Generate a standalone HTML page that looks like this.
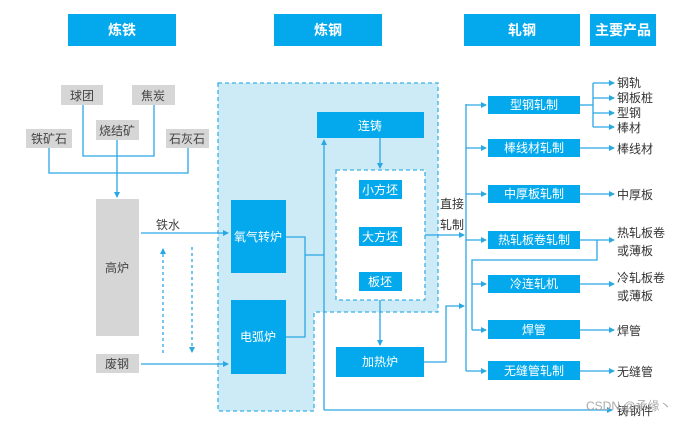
<!DOCTYPE html>
<html><head><meta charset="utf-8"><style>
html,body{margin:0;padding:0;background:#fff;}
svg{display:block;}
text{font-family:"Liberation Sans","Noto Sans CJK SC",sans-serif;}
</style></head><body>
<svg width="696" height="423" viewBox="0 0 696 423" xmlns="http://www.w3.org/2000/svg">
<defs>
<marker id="a" markerWidth="6" markerHeight="6" refX="5" refY="3" orient="auto" markerUnits="userSpaceOnUse"><path d="M0,0 L6,3 L0,6 z" fill="#2aa8e4"/></marker>
</defs>
<g font-size="14" font-weight="bold" fill="#fff" text-anchor="middle">
<rect x="68" y="14" width="108" height="32" fill="#03a9ec"/><text x="122" y="35">炼铁</text>
<rect x="274" y="14" width="108" height="32" fill="#03a9ec"/><text x="328" y="35">炼钢</text>
<rect x="464" y="14" width="116" height="32" fill="#03a9ec"/><text x="522" y="35">轧钢</text>
<rect x="590" y="14" width="66" height="32" fill="#03a9ec"/><text x="623" y="35">主要产品</text>
</g>
<!-- steel region -->
<path d="M218,83 L438,83 L438,312 L314,312 L314,411 L218,411 Z" fill="#cdeaf7" stroke="#3ab0e6" stroke-dasharray="4,3" stroke-width="1.3"/>
<rect x="336" y="170" width="89" height="130" fill="#fff" stroke="#3ab0e6" stroke-dasharray="4,3" stroke-width="1.3"/>
<!-- gray boxes -->
<g fill="#d6d6d6"><rect x="61" y="85" width="42" height="20"/><rect x="132" y="85" width="43" height="20"/><rect x="96" y="120" width="43" height="20"/><rect x="26" y="129" width="46" height="19"/><rect x="166" y="129" width="43" height="19"/><rect x="96" y="199" width="43" height="137"/><rect x="96" y="354" width="43" height="19"/></g>
<g font-size="12" fill="#444" text-anchor="middle">
<text x="82" y="100">球团</text><text x="153" y="100">焦炭</text><text x="117" y="135">烧结矿</text><text x="49" y="143">铁矿石</text><text x="187" y="143">石灰石</text><text x="117" y="272">高炉</text><text x="117" y="368">废钢</text><text x="168" y="229">铁水</text>
</g>
<g fill="none" stroke="#2aa8e4" stroke-width="1.3">
<path d="M83,105 V156 H154 V105"/><path d="M49,148 V173 H188 V148"/>
<path d="M117,140 V197" marker-end="url(#a)"/>
<path d="M141,233 H228" marker-end="url(#a)"/>
<path d="M141,364 H228" marker-end="url(#a)"/>
<path d="M163,353 V249" stroke-dasharray="3,3" marker-end="url(#a)"/>
<path d="M192,247 V352" stroke-dasharray="3,3" marker-end="url(#a)"/>
<path d="M286,237 H305 V337 H286"/><path d="M305,255 H324"/>
<path d="M324,410 V140" marker-end="url(#a)"/>
<path d="M324,410 H612" marker-end="url(#a)"/>
<path d="M380,138 V168" marker-end="url(#a)"/>
<path d="M380,300 V345" marker-end="url(#a)"/>
<path d="M425,235 H464" marker-end="url(#a)"/>
<path d="M424,362 H446 V306 H464" marker-end="url(#a)"/>
<path d="M466,104 V371"/>
<path d="M466,105 H486" marker-end="url(#a)"/>
<path d="M466,148 H486" marker-end="url(#a)"/>
<path d="M466,194 H486" marker-end="url(#a)"/>
<path d="M466,240 H486" marker-end="url(#a)"/>
<path d="M466,371 H486" marker-end="url(#a)"/>
<path d="M597,240 V260 H472 V330"/>
<path d="M472,284 H486" marker-end="url(#a)"/>
<path d="M472,330 H486" marker-end="url(#a)"/>
<path d="M580,105 H593"/><path d="M593,83 V127"/>
<path d="M593,83 H614" marker-end="url(#a)"/><path d="M593,98 H614" marker-end="url(#a)"/><path d="M593,113 H614" marker-end="url(#a)"/><path d="M593,127 H614" marker-end="url(#a)"/>
<path d="M580,148 H614" marker-end="url(#a)"/><path d="M580,194 H614" marker-end="url(#a)"/><path d="M580,240 H614" marker-end="url(#a)"/><path d="M580,284 H614" marker-end="url(#a)"/><path d="M580,330 H614" marker-end="url(#a)"/><path d="M580,371 H614" marker-end="url(#a)"/>
</g>
<!-- blue boxes -->
<g fill="#03a9ec">
<rect x="231" y="200" width="55" height="73"/><rect x="231" y="300" width="55" height="74"/>
<rect x="317" y="112" width="107" height="26"/>
<rect x="359" y="180" width="43" height="19"/><rect x="359" y="227" width="43" height="19"/><rect x="359" y="272" width="43" height="19"/>
<rect x="336" y="347" width="88" height="30"/>
<rect x="488" y="96" width="92" height="18"/><rect x="488" y="139" width="92" height="18"/><rect x="488" y="185" width="92" height="18"/><rect x="488" y="231" width="92" height="18"/><rect x="488" y="275" width="92" height="18"/><rect x="488" y="320" width="92" height="19"/><rect x="488" y="361" width="92" height="19"/>
</g>
<g font-size="12" fill="#fff" text-anchor="middle">
<text x="258" y="241">氧气转炉</text><text x="258" y="341">电弧炉</text><text x="370" y="130">连铸</text>
<text x="380" y="194">小方坯</text><text x="380" y="241">大方坯</text><text x="380" y="286">板坯</text><text x="380" y="366">加热炉</text>
<text x="534" y="109">型钢轧制</text><text x="534" y="152">棒线材轧制</text><text x="534" y="198">中厚板轧制</text><text x="534" y="244">热轧板卷轧制</text><text x="534" y="288">冷连轧机</text><text x="534" y="334">焊管</text><text x="534" y="375">无缝管轧制</text>
</g>
<g font-size="12" fill="#333">
<text x="440" y="208">直接</text><text x="440" y="229">轧制</text>
<text x="617" y="87">钢轨</text><text x="617" y="102">钢板桩</text><text x="617" y="117">型钢</text><text x="617" y="132">棒材</text>
<text x="617" y="153">棒线材</text><text x="617" y="199">中厚板</text>
<text x="617" y="237">热轧板卷</text><text x="617" y="255">或薄板</text>
<text x="617" y="282">冷轧板卷</text><text x="617" y="300">或薄板</text>
<text x="617" y="335">焊管</text><text x="617" y="376">无缝管</text><text x="617" y="415">铸钢件</text>
</g>
<text x="586" y="410" font-size="12" fill="#aaa">CSDN @承缘丶</text>
</svg>
</body></html>
